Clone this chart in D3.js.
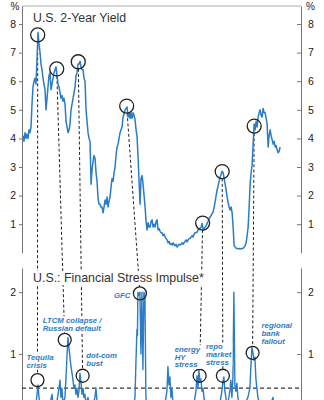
<!DOCTYPE html>
<html><head><meta charset="utf-8">
<script src="https://cdn.jsdelivr.net/npm/d3@7"></script>
<style>
body{margin:0;background:#fff}
svg{display:block}
text{font-family:"Liberation Sans",Arial,Helvetica,sans-serif}
</style>
</head><body>
<svg id="c" width="324" height="400"></svg>
<script>
// ---------- DATA ----------
const yieldStart = 1993.13;   // first observation (decimal year)
const yieldStep = 0.13;       // years between observations
const yieldValues = [
 4.1,3.9,4.2,4.0,4.15,4.0,4.3,4.2,4.4,5.2,
 5.8,6.0,6.1,5.9,6.8,7.7,7.3,7.0,6.6,6.4,
 6.1,5.9,5.7,5.0,5.4,5.8,6.2,6.3,5.7,5.9,
 6.1,6.3,6.4,6.5,6.2,5.9,5.8,5.6,5.4,5.5,
 5.3,5.4,5.2,4.6,4.4,4.2,4.3,4.5,5.0,5.2,
 5.4,5.6,5.8,6.2,6.3,6.6,6.6,6.7,6.5,6.4,
 6.4,6.1,6.0,5.0,4.6,4.2,4.0,3.9,2.4,2.9,
 3.2,3.4,3.3,2.8,2.5,1.9,1.7,1.7,1.6,1.6,
 1.4,1.6,1.85,1.7,1.95,1.6,1.8,1.95,2.3,2.6,
 2.5,2.8,3.0,3.4,3.7,3.8,4.0,4.2,4.3,4.4,
 4.75,4.85,5.0,5.05,5.1,4.75,4.9,4.7,4.9,4.7,
 4.9,4.8,4.65,4.3,4.05,3.35,2.5,1.7,2.6,2.7,
 2.4,2.0,1.6,1.1,0.8,1.05,0.9,0.9,1.1,1.15,
 0.9,1.0,0.9,1.1,1.15,0.8,0.85,0.75,0.7,0.7,
 0.6,0.65,0.55,0.5,0.45,0.35,0.4,0.3,0.32,0.27,
 0.35,0.28,0.25,0.3,0.2,0.25,0.3,0.27,0.3,0.35,
 0.3,0.35,0.4,0.45,0.38,0.45,0.5,0.5,0.55,0.6,
 0.55,0.65,0.7,0.7,0.73,0.8,0.85,0.85,0.9,1.03,
 0.8,0.85,0.9,0.95,1.03,1.1,1.2,1.25,1.3,1.38,
 1.42,1.6,1.77,2.0,2.2,2.35,2.5,2.65,2.75,2.85,
 2.8,2.6,2.4,2.2,1.95,1.75,1.6,1.5,1.6,1.4,
 0.9,0.25,0.2,0.16,0.15,0.14,0.15,0.13,0.14,0.15,
 0.16,0.2,0.25,0.35,0.6,0.9,1.6,2.4,2.8,3.1,
 3.8,4.5,4.3,4.6,4.4,4.75,4.9,5.0,4.8,4.75,
 5.05,4.9,4.9,4.7,4.5,3.7,4.1,4.3,4.1,3.95,
 3.8,3.9,3.7,3.75,3.6,3.5,3.55,3.7
];

const stressSeries = [
 [1993.00,0.10],[1994.04,0.15],[1994.82,0.20],[1994.95,0.35],[1995.08,0.50],[1995.21,0.30],[1995.34,0.15],
 [1995.99,0.10],[1996.64,0.20],[1996.90,0.35],[1997.03,0.20],[1997.55,0.25],[1997.81,0.45],[1997.94,0.58],
 [1998.06,0.30],[1998.19,0.45],[1998.32,0.20],[1998.58,0.30],[1998.71,0.60],[1998.84,0.95],[1998.97,1.27],
 [1999.10,1.10],[1999.23,0.95],[1999.36,0.80],[1999.49,0.70],[1999.62,0.58],[1999.75,0.45],[1999.88,0.50],
 [2000.01,0.35],[2000.14,0.45],[2000.27,0.30],[2000.40,0.40],[2000.53,0.69],[2000.66,0.55],[2000.79,0.35],
 [2000.92,0.45],[2001.05,0.30],[2001.18,0.35],[2001.31,0.20],[2001.57,0.30],[2001.83,0.15],[2002.22,0.20],
 [2002.48,0.30],[2002.61,0.45],[2002.74,0.25],[2003.00,0.10],[2003.78,0.15],[2004.43,0.10],[2005.08,0.15],
 [2005.73,0.10],[2006.38,0.12],[2007.03,0.15],[2007.55,0.20],[2007.68,0.30],[2007.81,0.90],[2007.94,1.40],
 [2008.00,1.30],[2008.06,2.00],[2008.19,1.95],[2008.32,2.00],[2008.45,1.00],[2008.58,2.00],[2008.71,0.75],
 [2008.84,2.00],[2008.97,1.95],[2009.10,0.30],[2009.23,0.15],[2009.62,0.10],[2010.27,0.15],[2010.92,0.12],
 [2011.57,0.20],[2011.83,0.40],[2011.96,0.80],[2012.09,0.50],[2012.22,0.63],[2012.35,0.30],[2012.48,0.45],
 [2012.61,0.20],[2012.87,0.10],[2013.52,0.15],[2014.17,0.10],[2014.82,0.15],[2015.34,0.20],[2015.60,0.40],
 [2015.73,0.65],[2015.86,0.45],[2015.99,0.74],[2016.12,0.55],[2016.25,0.60],[2016.38,0.40],[2016.51,0.45],
 [2016.64,0.30],[2016.77,0.20],[2017.16,0.15],[2017.68,0.20],[2018.06,0.25],[2018.45,0.15],[2018.71,0.20],
 [2018.97,0.40],[2019.10,0.55],[2019.23,0.63],[2019.36,0.40],[2019.49,0.30],[2019.62,0.15],[2019.88,0.30],
 [2020.01,0.40],[2020.14,0.58],[2020.27,0.30],[2020.40,0.60],[2020.53,2.00],[2020.66,0.50],[2020.79,0.40],
 [2020.92,0.53],[2021.05,0.30],[2021.18,0.20],[2021.57,0.15],[2021.96,0.20],[2022.35,0.30],[2022.61,0.45],
 [2022.74,0.80],[2022.87,1.11],[2023.00,1.03],[2023.13,0.90],[2023.26,0.95],[2023.39,0.60],[2023.52,0.45],
 [2023.65,0.30],[2023.91,0.20],[2024.56,0.15],[2025.21,0.20],[2025.47,0.25],[2025.60,0.30],[2025.73,0.20],
 [2026.25,0.15],[2026.51,0.20]
];

const yieldTicks = [1,2,3,4,5,6,7,8];
const stressTicks = [1,2];
const stressThreshold = 0.45;

// event annotations: circle on the yield line, circle on the stress line
const eventNames   = ["tequila","ltcm","dotcom","gfc","energy","repo","regional"];
const yieldMarks   = [[1995.04,7.62],[1997.51,6.43],[2000.31,6.68],[2006.60,5.13],[2016.47,1.04],[2019.01,2.84],[2023.17,4.43]];
const stressMarks  = [[1995.01,0.58],[1998.55,1.23],[2000.88,0.65],[2008.32,1.98],[2016.08,0.65],[2019.10,0.65],[2022.96,1.02]];
const eventLabels  = [["Tequila","crisis"],["LTCM collapse /","Russian default"],["dot-com","bust"],["GFC"],["energy","HY","stress"],["repo","market","stress"],["regional","bank","fallout"]];

const titleTop = "U.S. 2-Year Yield";
const titleBottom = "U.S.: Financial Stress Impulse*";
const unitLabel = "%";

// ---------- LAYOUT ----------
const W = 324, H = 400;
const left = 22, right = 301;
const labelOffsets = [[-11,-20,8],[-22,-17,8],[3.6,-17.7,8],[-26,5,8],[-25,-24,7.8],[-17,-26.7,7.8],[9,-24.7,8]];
const blue = "#2a7cc7";
const labelBlue = "#2f7cc4";
const ink = "#222";

const svg = d3.select("#c");
svg.append("rect").attr("width",W).attr("height",H).attr("fill","#fff");

const x = d3.scaleLinear().domain([1993, 2029.25]).range([left, right]);
const yTop = d3.scaleLinear().domain([0, 8.63]).range([252.8, 6]);
const yBot = d3.scaleLinear().domain([0, 2.39]).range([416, 268]);

const yieldData = yieldValues.map((v,i)=>[yieldStart + i*yieldStep, v]);

// axes
function axes(scale, ticks) {
  const gl = svg.append("g").attr("transform",`translate(${left},0)`)
    .call(d3.axisLeft(scale).tickValues(ticks).tickSize(3).tickSizeOuter(0).tickPadding(3).tickFormat(d3.format("d")));
  const gr = svg.append("g").attr("transform",`translate(${right},0)`)
    .call(d3.axisRight(scale).tickValues(ticks).tickSize(-4).tickSizeOuter(0).tickPadding(7).tickFormat(d3.format("d")));
  [gl,gr].forEach(g=>{
    g.select(".domain").attr("stroke","#777").attr("stroke-width",1);
    g.selectAll(".tick line").attr("stroke","#777");
    g.selectAll(".tick text").attr("fill",ink).style("font-size","10.5px")
      .style("font-family",'"Liberation Sans",Arial,sans-serif');
  });
}
axes(yTop, yieldTicks);
axes(yBot, stressTicks);

// top frame line
svg.append("line").attr("x1",left).attr("x2",right).attr("y1",yTop.range()[1]).attr("y2",yTop.range()[1])
  .attr("stroke","#999").attr("stroke-width",0.8);

// unit labels
svg.append("text").attr("x",15).attr("y",10).attr("text-anchor","middle").attr("fill",ink).style("font-size","10px").text(unitLabel);
svg.append("text").attr("x",310.5).attr("y",10).attr("text-anchor","middle").attr("fill",ink).style("font-size","10px").text(unitLabel);

// threshold line
svg.append("line").attr("x1",left).attr("x2",right)
  .attr("y1",yBot(stressThreshold)).attr("y2",yBot(stressThreshold))
  .attr("stroke","#333").attr("stroke-width",1.2).attr("stroke-dasharray","4,3");

// connector dashed lines
const rTop = 7, rBot = 6.5;
eventNames.forEach((n,i)=>{
  const x1 = x(yieldMarks[i][0]), y1 = yTop(yieldMarks[i][1]);
  const x2 = x(stressMarks[i][0]), y2 = yBot(stressMarks[i][1]);
  const len = Math.hypot(x2-x1, y2-y1);
  const ux = (x2-x1)/len, uy = (y2-y1)/len;
  svg.append("line")
    .attr("x1", x1+ux*rTop).attr("y1", y1+uy*rTop)
    .attr("x2", x2-ux*rBot).attr("y2", y2-uy*rBot)
    .attr("stroke","#222").attr("stroke-width",1).attr("stroke-dasharray","3,2.2");
});

// lines
svg.append("path").datum(yieldData)
  .attr("d", d3.line().x(d=>x(d[0])).y(d=>yTop(d[1])))
  .attr("fill","none").attr("stroke",blue).attr("stroke-width",1.5).attr("stroke-linejoin","round");
svg.append("path").datum(stressSeries)
  .attr("d", d3.line().x(d=>x(d[0])).y(d=>yBot(d[1])))
  .attr("fill","none").attr("stroke",blue).attr("stroke-width",1.4).attr("stroke-linejoin","round");

// circles
svg.selectAll("circle.top").data(yieldMarks).join("circle").attr("class","top")
  .attr("cx",d=>x(d[0])).attr("cy",d=>yTop(d[1])).attr("r",rTop)
  .attr("fill","none").attr("stroke","#222").attr("stroke-width",1.3);
svg.selectAll("circle.bot").data(stressMarks).join("circle").attr("class","bot")
  .attr("cx",d=>x(d[0])).attr("cy",d=>yBot(d[1])).attr("r",rBot)
  .attr("fill","none").attr("stroke","#222").attr("stroke-width",1.3);

// titles
svg.append("text").attr("x",33).attr("y",22).attr("fill","#333").style("font-size","12.3px").text(titleTop);
const tb = svg.append("text").attr("x",33).attr("y",282).attr("fill","#333").style("font-size","12.4px").text(titleBottom);
const bb = tb.node().getBBox();
svg.insert("rect", function(){return tb.node();}).attr("x",bb.x-1).attr("y",bb.y).attr("width",bb.width+2).attr("height",bb.height).attr("fill","#fff");

// event labels
eventLabels.forEach((lines,i)=>{
  const cx = x(stressMarks[i][0]), cy = yBot(stressMarks[i][1]);
  const [dx,dy,lh] = labelOffsets[i];
  const t = svg.append("text").attr("fill",labelBlue)
    .style("font-size","7.8px").style("font-weight","bold").style("font-style","italic");
  lines.forEach((s,j)=>{
    t.append("tspan").attr("x",cx+dx).attr("y",cy+dy+j*lh).text(s);
  });
  const b = t.node().getBBox();
  svg.insert("rect", function(){return t.node();}).attr("x",b.x-0.5).attr("y",b.y+0.5).attr("width",b.width+1).attr("height",b.height-1).attr("fill","#fff");
});
</script>
</body></html>
